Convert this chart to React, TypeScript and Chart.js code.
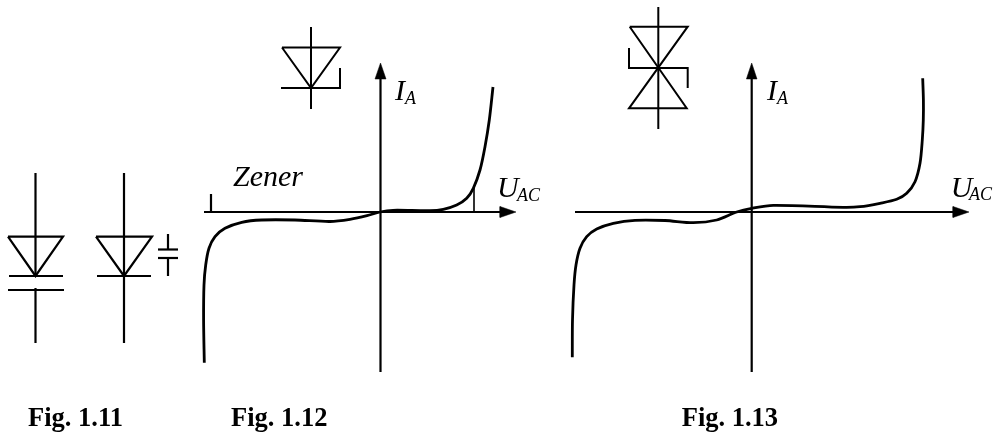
import React, { useEffect, useRef } from "react";
import { Chart, registerables } from "chart.js";

Chart.register(...registerables);

type P = [number, number];

// Characteristic curves (x across, y downwards)
const curveFig12: P[] = [[204.3, 362.7], [203.6, 320], [204, 285], [205.7, 265], [209, 248.3], [215, 236.7], [225, 228.3], [241.7, 222.3], [261.7, 220], [295, 220], [330, 221.5], [350, 219.3], [367, 215.7], [380, 212], [393, 210.3], [430, 210.7], [443.3, 209.3], [456.7, 205], [466.7, 198.3], [473.3, 188.3], [480, 170], [485, 146.7], [489.3, 120], [493, 87]];
const curveFig13: P[] = [[572.3, 357.3], [572.5, 320], [574, 285], [576, 265], [580, 248.3], [586.7, 236.7], [596.7, 229], [613.3, 223.3], [635, 220.3], [665, 220.5], [693.3, 222.7], [716.7, 220], [736.7, 212], [751.7, 208.3], [773.3, 205.3], [843.3, 207.3], [860, 206.7], [880, 203.3], [896.7, 199.3], [906.7, 193.3], [915, 181.7], [920, 163.3], [922.3, 140], [923.3, 120], [923.4, 100], [922.7, 78.3]];

// Axes
const axisFig12: P[][] = [[[380.5, 75], [380.5, 372]], [[204, 212], [505, 212]], [[211, 194], [211, 212]]];
const thinTickFig12: P[][] = [[[474, 188], [474, 212]]];
const axisFig13: P[][] = [[[751.7, 75], [751.7, 372]], [[575, 212], [958, 212]]];
const arrowHeads: P[][] = [
  [[380.5, 63], [386, 79], [375, 79], [380.5, 63]],
  [[516, 212], [500, 206.5], [500, 217.5], [516, 212]],
  [[751.7, 63], [757, 79], [746.4, 79], [751.7, 63]],
  [[969, 212], [953, 206.5], [953, 217.5], [969, 212]],
];

// Diode symbols
const symbolsFig11: P[][] = [
  [[35.5, 173], [35.5, 276]],
  [[35.5, 288], [35.5, 343]],
  [[8, 236.7], [63, 236.7], [35.5, 276], [8, 236.7]],
  [[9, 276], [63, 276]],
  [[8, 290], [64, 290]],
  [[124, 173], [124, 343]],
  [[96, 236.7], [152, 236.7], [124, 276], [96, 236.7]],
  [[97, 276], [151, 276]],
  [[168, 234], [168, 249]],
  [[158, 249.5], [178, 249.5]],
  [[158, 258], [178, 258]],
  [[168, 259], [168, 276]],
];
const symbolFig12: P[][] = [
  [[311, 27], [311, 109]],
  [[282, 47.5], [340, 47.5], [311, 88], [282, 47.5]],
  [[281, 88], [340, 88], [340, 68]],
];
const symbolFig13: P[][] = [
  [[658.3, 7], [658.3, 129]],
  [[629.7, 26.7], [687.7, 26.7], [629, 108.3], [686.7, 108.3], [629.7, 26.7]],
  [[629, 48], [629, 68], [687.7, 68], [687.7, 88]],
];

// Text: [text, x, baseline y]
type T = [string, number, number];
const captions: T[] = [["Fig. 1.11", 28, 426], ["Fig. 1.12", 231, 426], ["Fig. 1.13", 681.7, 426]];
const mainLabels: T[] = [["Zener", 233, 186], ["I", 395, 100], ["U", 497, 197], ["I", 767, 100], ["U", 950.7, 197]];
const subLabels: T[] = [["A", 405, 104], ["AC", 517, 201], ["A", 777, 104], ["AC", 969, 200]];

const SERIF = '"Liberation Serif", "Times New Roman", serif';

const toPoints = (pts: P[]) => pts.map(([x, y]) => ({ x, y }));

const lineSet = (pts: P[], width: number, tension = 0) => ({
  data: toPoints(pts),
  borderColor: "#000",
  backgroundColor: "#000",
  borderWidth: width,
  pointRadius: 0,
  tension,
  fill: false as const,
});

const textPlugin = {
  id: "diagramText",
  afterDatasetsDraw(chart: any) {
    const { ctx, scales } = chart;
    const put = (items: T[], font: string) => {
      ctx.save();
      ctx.font = font;
      ctx.fillStyle = "#000";
      ctx.textAlign = "left";
      ctx.textBaseline = "alphabetic";
      items.forEach(([s, x, y]) => ctx.fillText(s, scales.x.getPixelForValue(x), scales.y.getPixelForValue(y)));
      ctx.restore();
    };
    put(captions, `bold 26.5px ${SERIF}`);
    put(mainLabels, `italic 30px ${SERIF}`);
    put(subLabels, `italic 18px ${SERIF}`);
  },
};

export default function App() {
  const ref = useRef<HTMLCanvasElement>(null);
  useEffect(() => {
    if (!ref.current) return;
    const chart = new Chart(ref.current, {
      type: "line",
      data: {
        datasets: [
          ...symbolsFig11.map((p) => lineSet(p, 2.2)),
          ...symbolFig12.map((p) => lineSet(p, 2)),
          ...symbolFig13.map((p) => lineSet(p, 2)),
          ...axisFig12.map((p) => lineSet(p, 2.2)),
          ...thinTickFig12.map((p) => lineSet(p, 1.6)),
          ...axisFig13.map((p) => lineSet(p, 2.2)),
          ...arrowHeads.map((p) => ({ ...lineSet(p, 0.5), fill: "shape" as const })),
          lineSet(curveFig12, 2.8, 0.3),
          lineSet(curveFig13, 2.8, 0.3),
        ] as any,
      },
      options: {
        responsive: false,
        animation: false,
        events: [],
        layout: { padding: 0 },
        plugins: { legend: { display: false }, tooltip: { enabled: false } },
        scales: {
          x: { type: "linear", min: 0, max: 994, display: false },
          y: { type: "linear", min: 0, max: 432, reverse: true, display: false },
        },
      },
      plugins: [textPlugin],
    });
    return () => chart.destroy();
  }, []);
  return (
    <div style={{ position: "absolute", left: 0, top: 0, width: 994, height: 432, background: "#fff" }}>
      <canvas ref={ref} width={994} height={432} style={{ display: "block" }} />
    </div>
  );
}
